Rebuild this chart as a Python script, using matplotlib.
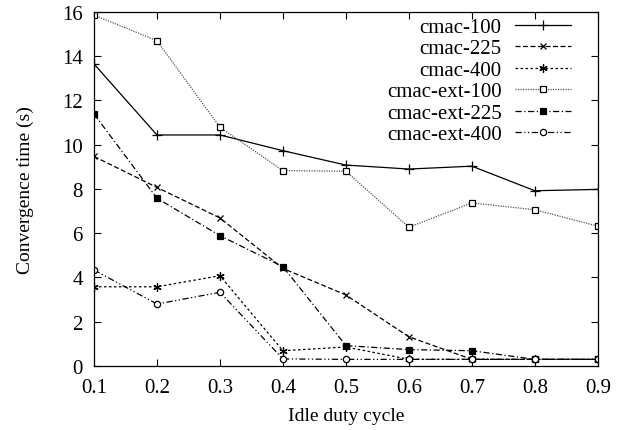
import matplotlib
matplotlib.use("Agg")
import matplotlib.pyplot as plt

plt.rcParams['font.family'] = ['Liberation Serif', 'DejaVu Serif']

duty = [0.1, 0.2, 0.3, 0.4, 0.5, 0.6, 0.7, 0.8, 0.9]

cmac_100 = [13.65, 10.44, 10.44, 9.73, 9.08, 8.9, 9.03, 7.92, 7.98]
cmac_225 = [9.47, 8.07, 6.69, 4.41, 3.21, 1.32, 0.3, 0.3, 0.3]
cmac_400 = [3.58, 3.58, 4.08, 0.69, 0.86, 0.3, 0.3, 0.3, 0.3]
cmac_ext_100 = [15.86, 14.7, 10.79, 8.83, 8.8, 6.27, 7.37, 7.06, 6.32]
cmac_ext_225 = [11.39, 7.58, 5.89, 4.49, 0.92, 0.74, 0.69, 0.3, 0.3]
cmac_ext_400 = [4.34, 2.8, 3.33, 0.32, 0.3, 0.3, 0.3, 0.3, 0.3]

series = [
    ("cmac-100", cmac_100, dict(ls='-', marker='+', color='black', ms=6.5)),
    ("cmac-225", cmac_225, dict(ls=(0, (4, 2)), marker='x', color='black', ms=5)),
    ("cmac-400", cmac_400, dict(ls=(0, (2, 2)), marker=(6, 2, 0), color='black', ms=6)),
    ("cmac-ext-100", cmac_ext_100, dict(ls=(0, (1, 1)), marker='s', color='#555555',
                                        mfc='white', mec='black', ms=4.5)),
    ("cmac-ext-225", cmac_ext_225, dict(ls=(0, (5, 2, 1, 2)), marker='s', color='black',
                                        mfc='black', ms=4.8)),
    ("cmac-ext-400", cmac_ext_400, dict(ls=(0, (5, 2, 1, 2, 1, 2)), marker='o', color='black',
                                        mfc='white', ms=4.5)),
]

fig = plt.figure(figsize=(6.24, 4.31), dpi=100)
ax = fig.add_axes([0.1506, 0.1485, 0.8074, 0.8215])

for name, vals, style in series:
    ax.plot(duty, vals, label=name, lw=0.9, mew=0.9, **style)

ax.set_xlim(0.1, 0.9)
ax.set_ylim(0, 16)
ax.set_xticks(duty)
ax.set_xticklabels([f"{d:.1f}" for d in duty])
ax.set_yticks(range(0, 17, 2))
ax.tick_params(direction='in', top=True, right=True, labelsize=15, length=5, width=0.8)
ax.tick_params(axis='x', pad=9)
ax.tick_params(axis='y', pad=8)
for sp in ax.spines.values():
    sp.set_linewidth(0.9)

ax.set_xlabel("Idle duty cycle", fontsize=14, labelpad=7)
ax.set_ylabel("Convergence time (s)", fontsize=14, labelpad=20)

ax.legend(loc='upper right', bbox_to_anchor=(0.963, 1.008), frameon=False,
          markerfirst=False, fontsize=15, handlelength=2.7, labelspacing=0.09,
          borderaxespad=0, handletextpad=0.62)

fig.savefig("out.png", dpi=100)
